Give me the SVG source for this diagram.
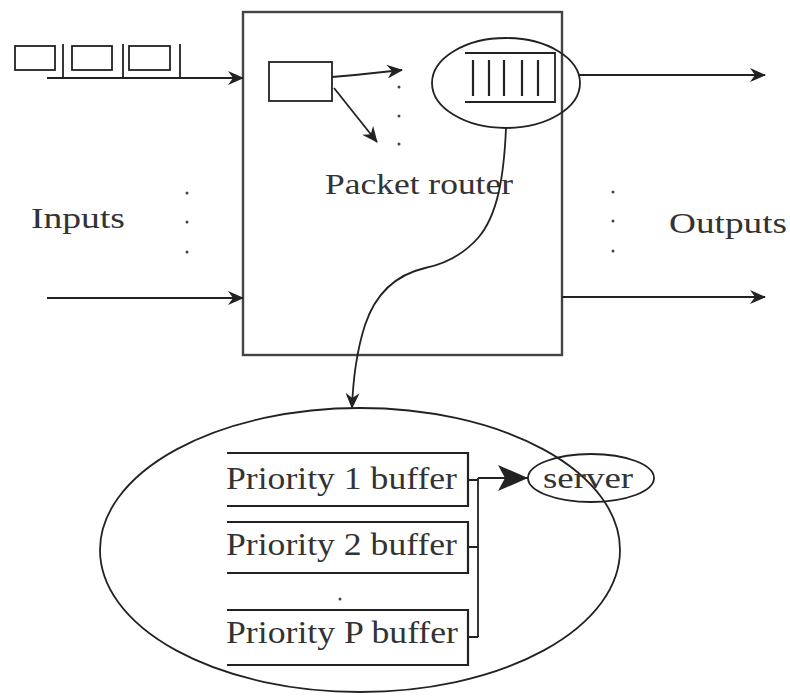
<svg xmlns="http://www.w3.org/2000/svg" width="790" height="696" viewBox="0 0 790 696">
  <defs>
    <marker id="arrow" viewBox="0 0 16 14" refX="15" refY="7" markerWidth="16" markerHeight="14" markerUnits="userSpaceOnUse" orient="auto">
      <path d="M0,0 L16,7 L0,14 L5,7 z" fill="#222"/>
    </marker>
    <marker id="arrowBig" viewBox="0 0 30 26" refX="30" refY="13" markerWidth="30" markerHeight="26" markerUnits="userSpaceOnUse" orient="auto">
      <path d="M0,0 L30,13 L0,26 L7,13 z" fill="#222"/>
    </marker>
  </defs>
  <style>
    .ln { fill: none; stroke: #222; stroke-width: 2.2; }
    .thin { fill: none; stroke: #222; stroke-width: 1.8; }
    .lbl { font-family: "Liberation Serif", "DejaVu Serif", serif; fill: #333; }
    .dot { fill: #444; }
  </style>
  <rect width="790" height="696" fill="#fff"/>

  <!-- packet router frame -->
  <g id="router">
    <rect x="243" y="12" width="319" height="343" fill="none" stroke="#444" stroke-width="2.4"/>
    <text class="lbl" x="325" y="194" font-size="30" textLength="188" lengthAdjust="spacingAndGlyphs">Packet router</text>
  </g>

  <!-- incoming packet train -->
  <g id="packets">
    <rect x="15" y="46" width="40" height="24" class="thin"/>
    <rect x="72" y="46" width="40" height="24" class="thin"/>
    <rect x="129" y="46" width="41" height="24" class="thin"/>
    <path d="M63,44 V78 M123,44 V78 M180,44 V78" class="thin"/>
  </g>

  <!-- routing element -->
  <g id="classifier">
    <rect x="269" y="62" width="63" height="39" class="thin"/>
  </g>

  <!-- output queue highlighted by an ellipse -->
  <g id="queue">
    <ellipse cx="506" cy="83" rx="74" ry="45" class="thin"/>
    <path d="M465,53 H555 V102 H465" class="thin"/>
    <path d="M473,60 V96 M489,60 V96 M504,60 V96 M522,60 V96 M538,60 V96" class="ln"/>
  </g>

  <g id="inputs-label">
    <text class="lbl" x="31" y="228" font-size="30" textLength="94" lengthAdjust="spacingAndGlyphs">Inputs</text>
    <circle cx="187" cy="193" r="1.5" class="dot"/>
    <circle cx="187" cy="222" r="1.5" class="dot"/>
    <circle cx="187" cy="252" r="1.5" class="dot"/>
  </g>

  <g id="outputs-label">
    <text class="lbl" x="669" y="233" font-size="30" textLength="118" lengthAdjust="spacingAndGlyphs">Outputs</text>
    <circle cx="613" cy="192" r="1.5" class="dot"/>
    <circle cx="613" cy="221" r="1.5" class="dot"/>
    <circle cx="613" cy="251" r="1.5" class="dot"/>
  </g>

  <g id="router-dots">
    <circle cx="399" cy="87" r="1.5" class="dot"/>
    <circle cx="399" cy="116" r="1.5" class="dot"/>
    <circle cx="399" cy="144" r="1.5" class="dot"/>
  </g>

  <!-- zoomed view of the priority scheduler -->
  <g id="scheduler">
    <ellipse cx="360" cy="550" rx="260" ry="142" class="thin"/>
  </g>

  <g id="buffer1">
    <path d="M227,453 H468 V506 H227" class="ln"/>
    <text class="lbl" x="226" y="489" font-size="31" textLength="231" lengthAdjust="spacingAndGlyphs">Priority 1 buffer</text>
  </g>
  <g id="buffer2">
    <path d="M227,522 H468 V573 H227" class="ln"/>
    <text class="lbl" x="226" y="555" font-size="31" textLength="231" lengthAdjust="spacingAndGlyphs">Priority 2 buffer</text>
  </g>
  <circle cx="340" cy="599" r="1.5" class="dot"/>
  <g id="bufferP">
    <path d="M227,610 H468 V665 H227" class="ln"/>
    <text class="lbl" x="226" y="643" font-size="31" textLength="232" lengthAdjust="spacingAndGlyphs">Priority P buffer</text>
  </g>

  <g id="server">
    <ellipse cx="591" cy="478" rx="63" ry="24" class="thin"/>
    <text class="lbl" x="543" y="488" font-size="29" textLength="90" lengthAdjust="spacingAndGlyphs">server</text>
  </g>

  <!-- connectors -->
  <g id="connectors">
    <line x1="47" y1="78" x2="243" y2="78" class="ln" marker-end="url(#arrow)"/>
    <line x1="47" y1="298" x2="243" y2="298" class="ln" marker-end="url(#arrow)"/>
    <line x1="578" y1="75" x2="765" y2="75" class="ln" marker-end="url(#arrow)"/>
    <line x1="562" y1="297" x2="765" y2="297" class="ln" marker-end="url(#arrow)"/>
    <path d="M332,77 L355,75 L402,70" class="thin" marker-end="url(#arrow)"/>
    <path d="M334,88 L377,142" class="thin" marker-end="url(#arrow)"/>
    <path d="M506,128 C504,175 498,215 478,238 C460,258 440,265 425,268 C395,275 375,295 365,325 C357,350 353,380 352,408" class="thin" marker-end="url(#arrow)"/>
    <path d="M468,480 H478 M468,547 H478 M468,637 H478 M478,478 V637" class="thin"/>
    <line x1="478" y1="478" x2="528" y2="478" class="thin" marker-end="url(#arrowBig)"/>
  </g>
</svg>
